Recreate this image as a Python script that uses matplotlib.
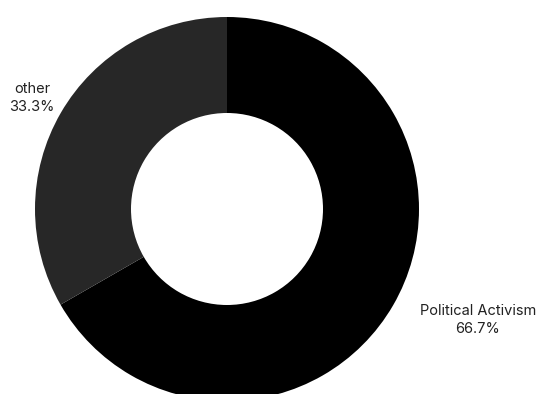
import matplotlib
matplotlib.use("Agg")
import matplotlib.pyplot as plt

# data
labels = ["Political Activism", "other"]
values = [66.7, 33.3]
colors = ["#000000", "#272727"]

plt.rcParams['font.family'] = ['Inter', 'DejaVu Sans']

fig = plt.figure(figsize=(5.45, 3.94), dpi=100)
# axes placed so the donut sits where it does in the reference
ax = fig.add_axes([35 / 545, -7 / 394, 384 / 545, 384 / 394])

wedges, _ = ax.pie(values, colors=colors, startangle=90, counterclock=False,
                   radius=1, wedgeprops=dict(width=0.5, linewidth=0))
ax.set_xlim(-1, 1)
ax.set_ylim(-1, 1)
ax.set_aspect('equal')
ax.axis('off')

# label positions, in data units of the donut axes
label_pos = [(1.307, -0.58), (-1.016, 0.58)]
for name, val, (x, y) in zip(labels, values, label_pos):
    ax.text(x, y, f"{name}\n{val:.1f}%", ha='center', va='center',
            fontsize=10.5, color='#222222', linespacing=1.35, clip_on=False)

fig.savefig("out.png", dpi=100)
